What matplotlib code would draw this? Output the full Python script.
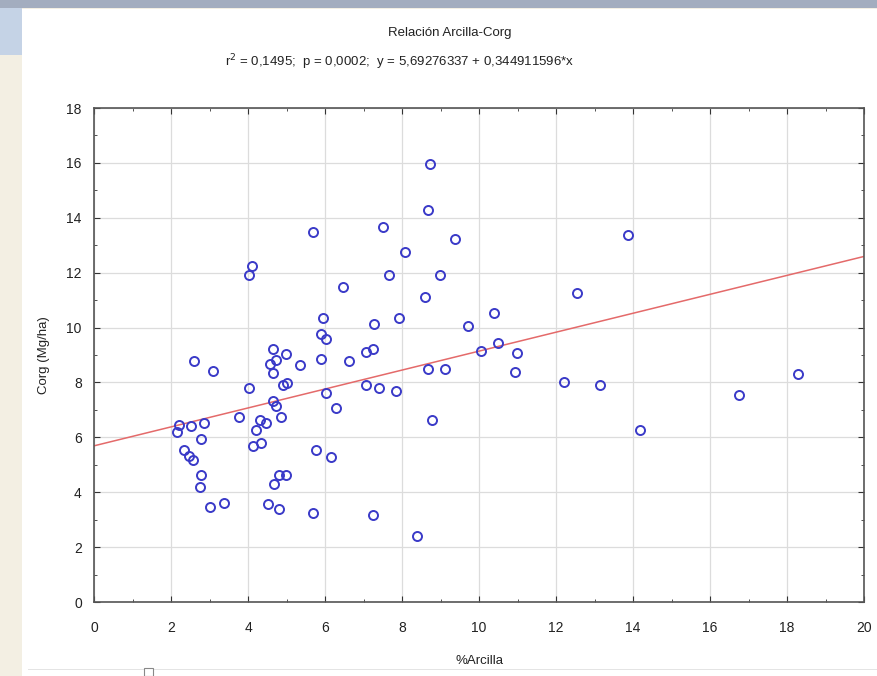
import matplotlib
matplotlib.use('Agg')
import matplotlib.pyplot as plt
import numpy as np
from matplotlib.patches import Rectangle

plt.rcParams['font.family'] = ['Liberation Sans', 'DejaVu Sans']

# datos
arcilla = [8.72, 8.66, 5.69, 7.49, 9.36, 8.07, 4.11, 4.02, 7.66, 8.98,
           6.47, 8.59, 5.93, 7.27, 7.92, 9.72, 5.88, 6.02,
           2.59, 3.08, 4.64, 4.99, 4.56, 4.73, 4.64, 5.34, 5.88, 6.62,
           7.06, 7.25, 8.66, 9.11, 10.05, 4.02, 4.90, 5.01, 7.06, 7.40,
           7.84, 6.02, 4.64, 4.73, 6.28, 3.76, 4.84, 2.21, 2.50, 2.86,
           2.15, 4.30, 4.45, 4.19, 2.78, 4.12, 4.32, 2.34, 2.47, 2.56,
           5.76, 6.14, 2.78, 2.75, 4.80, 4.99, 4.66, 3.01, 3.36, 4.51,
           4.80, 5.69, 7.23, 8.38, 8.77,
           13.86, 12.54, 10.39, 10.48, 10.98, 10.94, 12.21, 13.15, 14.17,
           16.75, 18.29]
corg = [15.97, 14.30, 13.50, 13.66, 13.24, 12.75, 12.26, 11.92, 11.90, 11.92,
        11.47, 11.10, 10.35, 10.13, 10.35, 10.04, 9.77, 9.59,
        8.77, 8.41, 9.22, 9.04, 8.67, 8.82, 8.33, 8.64, 8.86, 8.77,
        9.10, 9.22, 8.49, 8.49, 9.16, 7.80, 7.92, 7.97, 7.92, 7.80,
        7.68, 7.60, 7.34, 7.15, 7.07, 6.75, 6.75, 6.45, 6.42, 6.51,
        6.18, 6.63, 6.54, 6.28, 5.94, 5.69, 5.79, 5.54, 5.33, 5.17,
        5.54, 5.27, 4.64, 4.20, 4.64, 4.64, 4.30, 3.47, 3.62, 3.56,
        3.38, 3.26, 3.18, 2.41, 6.63,
        13.39, 11.27, 10.52, 9.43, 9.06, 8.37, 8.00, 7.91, 6.28,
        7.54, 8.31]

a = 5.69276337
b = 0.344911596

fig = plt.figure(figsize=(8.77, 6.76), dpi=100)

# marco de la captura
fig.patches.append(Rectangle((0, 0), 1, 1, transform=fig.transFigure,
                             facecolor='#f3efe3', edgecolor='none', zorder=-10))
fig.patches.append(Rectangle((0, 1 - 55 / 676), 22 / 877, 55 / 676, transform=fig.transFigure,
                             facecolor='#c5d3e6', edgecolor='none', zorder=-9))
fig.patches.append(Rectangle((22 / 877, 0), 1, 1 - 9 / 676, transform=fig.transFigure,
                             facecolor='white', edgecolor='none', zorder=-8))
fig.patches.append(Rectangle((0, 1 - 8 / 676), 1, 8 / 676, transform=fig.transFigure,
                             facecolor='#a3adbf', edgecolor='none', zorder=-7))
fig.patches.append(Rectangle((28 / 877, 1 - 670 / 676), 1, 0.6 / 676, transform=fig.transFigure,
                             facecolor='#e4e4e4', edgecolor='none', zorder=-6))
fig.patches.append(Rectangle((144 / 877, 1 - 676 / 676), 9 / 877, 8 / 676, transform=fig.transFigure,
                             facecolor='white', edgecolor='#888888', lw=0.8, zorder=-5))

ax = fig.add_axes([94.3 / 877, 1 - 602 / 676, (864 - 94.3) / 877, (602 - 108) / 676])

xx = np.array([0, 20])
ax.plot(xx, a + b * xx, color='#e46a6a', lw=1.1, zorder=2)
ax.plot(arcilla, corg, linestyle='none', marker='o', markersize=6.5,
        markerfacecolor='none', markeredgecolor='#3a3ac8', markeredgewidth=1.4, zorder=3)

ax.set_xlim(0, 20)
ax.set_ylim(0, 18)
ax.set_xticks(range(0, 21, 2))
ax.set_yticks(range(0, 19, 2))
ax.set_xticks(range(1, 20, 2), minor=True)
ax.set_yticks(range(1, 18, 2), minor=True)
ax.grid(True, color='#dcdcdc', lw=0.9)
ax.set_axisbelow(True)
ax.tick_params(which='both', direction='in', top=True, right=True,
               labelsize=10, colors='#333333', labelcolor='#222222')
ax.tick_params(which='major', length=4)
ax.tick_params(which='minor', length=2.5)
ax.tick_params(axis='x', pad=14)
ax.tick_params(axis='y', pad=9)
for s in ax.spines.values():
    s.set_color('#555555')
    s.set_linewidth(1.2)

ax.set_xlabel('%Arcilla', fontsize=9.5, color='#222222', labelpad=14)
ax.set_ylabel('Corg (Mg/ha)', fontsize=9.5, color='#222222', labelpad=12)

fig.text(450 / 877, 1 - 33 / 676, 'Relación Arcilla-Corg', ha='center', va='center',
         fontsize=9.5, color='#222222')
fig.text(400 / 877, 1 - 62 / 676,
         r'r$^2$ = 0,1495;  p = 0,0002;  y = 5,69276337 + 0,344911596*x',
         ha='center', va='center', fontsize=9.5, color='#222222')

fig.savefig('out.png', dpi=100)
